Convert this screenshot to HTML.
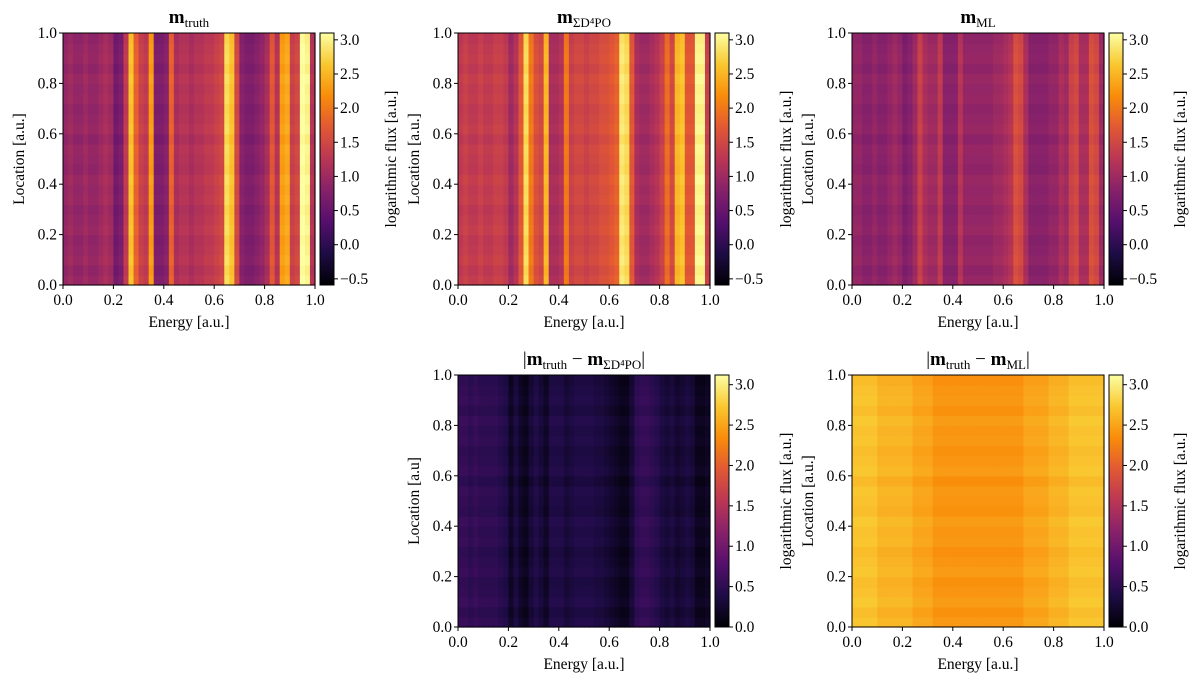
<!DOCTYPE html>
<html><head><meta charset="utf-8"><style>
body{margin:0;background:#fff;width:1200px;height:685px;overflow:hidden;font-family:"Liberation Serif",serif;}
svg text{font-family:"Liberation Serif",serif;fill:#000;}
</style></head><body>
<svg id="fig" width="1200" height="685"></svg>
<script>
// ----- data -----
const energyTicks = [0.0,0.2,0.4,0.6,0.8,1.0];
const locationTicks = [0.0,0.2,0.4,0.6,0.8,1.0];
const cbTicksTop = [-0.5,0.0,0.5,1.0,1.5,2.0,2.5,3.0];
const cbTicksBottom = [0.0,0.5,1.0,1.5,2.0,2.5,3.0];
const truthProfile = [0.9,1.0,0.9,0.9,1.0,0.9,0.9,1.0,1.1,1.0,0.6,0.7,1.3,2.6,1.8,1.4,1.3,2.3,0.7,0.7,0.8,1.8,1.1,1.2,1.2,1.1,1.2,1.2,1.3,1.3,1.4,1.5,2.8,2.6,1.5,0.8,0.7,0.7,0.8,0.9,1.1,1.7,1.2,2.3,2.4,1.4,1.5,3.1,3.0,1.2];
const d4poProfile = [1.3,1.4,1.3,1.3,1.4,1.3,1.3,1.4,1.4,1.3,1.0,1.2,1.7,2.8,2.0,1.6,1.5,2.5,1.1,1.1,1.2,2.0,1.4,1.5,1.5,1.4,1.5,1.5,1.6,1.6,1.7,1.8,2.9,2.8,1.7,1.1,1.0,1.0,1.1,1.2,1.4,1.9,1.5,2.5,2.6,1.7,1.7,3.0,3.0,1.4];
const mlProfile = [0.9,0.9,0.8,0.8,0.9,0.8,0.8,0.9,1.0,0.9,0.7,0.8,1.0,1.4,1.1,1.0,1.0,1.3,0.8,0.8,0.8,1.2,0.9,0.9,0.9,0.9,0.9,0.9,1.0,1.0,1.1,1.2,1.6,1.5,1.1,0.8,0.8,0.8,0.8,0.9,0.9,1.1,1.0,1.4,1.5,1.1,1.1,1.6,1.5,1.0];
const diffD4poProfile = [0.55,0.55,0.5,0.55,0.5,0.5,0.5,0.5,0.45,0.4,0.2,0.35,0.2,0.15,0.3,0.4,0.3,0.2,0.4,0.4,0.4,0.3,0.35,0.4,0.4,0.4,0.4,0.35,0.35,0.3,0.25,0.2,0.15,0.15,0.3,0.5,0.55,0.55,0.5,0.45,0.35,0.3,0.35,0.25,0.3,0.35,0.3,0.15,0.15,0.2];
const diffMlProfile = [2.7,2.7,2.7,2.7,2.7,2.6,2.6,2.6,2.6,2.6,2.6,2.6,2.5,2.5,2.5,2.5,2.4,2.4,2.4,2.4,2.4,2.4,2.4,2.4,2.4,2.4,2.4,2.4,2.4,2.4,2.4,2.4,2.4,2.4,2.5,2.5,2.5,2.5,2.5,2.6,2.6,2.6,2.6,2.7,2.7,2.7,2.7,2.7,2.7,2.7];
const rowMod = [0.03,-0.03,0.05,0,-0.03,0.04,0,-0.04,0.03,0,0.05,-0.03,0,0.03,-0.05,0.04,0,-0.03,0.03,0,0.05,-0.03,0.03,0,-0.04];

const NS="http://www.w3.org/2000/svg";
const svg=document.getElementById('fig');
const inferno=[[0,0,0,4],[0.13,31,12,72],[0.25,85,15,109],[0.38,136,34,106],[0.5,186,54,85],[0.63,227,89,51],[0.75,249,140,10],[0.88,249,201,50],[1,252,255,164]];
function cmap(t){t=Math.max(0,Math.min(1,t));for(let i=1;i<inferno.length;i++){if(t<=inferno[i][0]){const a=inferno[i-1],b=inferno[i];const f=(t-a[0])/(b[0]-a[0]);return `rgb(${Math.round(a[1]+f*(b[1]-a[1]))},${Math.round(a[2]+f*(b[2]-a[2]))},${Math.round(a[3]+f*(b[3]-a[3]))})`;}}return 'rgb(252,255,164)';}
function mk(tag,attrs,parent){const e=document.createElementNS(NS,tag);for(const k in attrs)e.setAttribute(k,attrs[k]);(parent||svg).appendChild(e);return e;}

function panel(name,x0,y0,profile,vmin,vmax,cbTicks,title,ylabel){
  const W=252,H=252;
  const g=mk('g',{});
  
  
  const xS=v=>x0+v*W, yS=v=>y0+H-v*H;
  const n=profile.length, nr=rowMod.length;
  for(let i=0;i<n;i++){for(let r=0;r<nr;r++){
    const v=profile[i]+rowMod[r]*(vmax-vmin)*0.3;
    const c=mk('rect',{x:xS(i/n),y:yS((r+1)/nr),width:W/n+0.6,height:H/nr+0.6,fill:cmap((v-vmin)/(vmax-vmin))},g);
    
    
  }}
  const fr=mk('rect',{x:x0,y:y0,width:W,height:H,fill:'none',stroke:'#000','stroke-width':1},g);
  
  energyTicks.forEach(t=>{mk('line',{x1:xS(t),x2:xS(t),y1:y0+H,y2:y0+H+4,stroke:'#000'},g);
    const tx=mk('text',{x:xS(t),y:y0+H+20,'text-anchor':'middle','font-size':15.5},g);tx.textContent=t.toFixed(1);
    });
  locationTicks.forEach(t=>{mk('line',{x1:x0-4,x2:x0,y1:yS(t),y2:yS(t),stroke:'#000'},g);
    const tx=mk('text',{x:x0-6,y:yS(t)+5,'text-anchor':'end','font-size':15.5},g);tx.textContent=t.toFixed(1);
    });
  const xl=mk('text',{x:x0+W/2,y:y0+H+42,'text-anchor':'middle','font-size':15.5},g);xl.textContent='Energy [a.u.]';
  
  const yl=mk('text',{x:0,y:0,'text-anchor':'middle','font-size':15.5,transform:`translate(${x0-39},${y0+H/2}) rotate(-90)`},g);yl.textContent=ylabel;
  
  const tt=mk('text',{x:x0+W/2,y:y0-10,'text-anchor':'middle','font-size':19},g);tt.innerHTML=title;
  
  const cx=x0+W+5,cw=14;
  const defsId='grad'+name;
  const defs=mk('defs',{},g);const lg=mk('linearGradient',{id:defsId,x1:0,y1:1,x2:0,y2:0},defs);
  for(let k=0;k<=8;k++)mk('stop',{offset:k/8,'stop-color':cmap(k/8)},lg);
  const cb=mk('rect',{x:cx,y:y0,width:cw,height:H,fill:`url(#${defsId})`,stroke:'#000','stroke-width':1},g);
  
  const cy=v=>y0+H-(v-vmin)/(vmax-vmin)*H;
  cbTicks.forEach(t=>{mk('line',{x1:cx+cw,x2:cx+cw+4,y1:cy(t),y2:cy(t),stroke:'#000'},g);
    const tx=mk('text',{x:cx+cw+6,y:cy(t)+5,'font-size':15.5},g);tx.textContent=(t<0?'\u2212':'')+Math.abs(t).toFixed(1);
    });
  const cl=mk('text',{x:0,y:0,'text-anchor':'middle','font-size':15.5,transform:`translate(${cx+cw+62},${y0+H/2}) rotate(-90)`},g);cl.textContent='logarithmic flux [a.u.]';
  
}
panel('panel-truth',63,33,truthProfile,-0.59,3.1,cbTicksTop,`<tspan font-weight="bold">m</tspan><tspan font-size="13" dy="4">truth</tspan>`,'Location [a.u.]');
panel('panel-d4po',458,33,d4poProfile,-0.59,3.1,cbTicksTop,`<tspan font-weight="bold">m</tspan><tspan font-size="13" dy="4">ΣD⁴PO</tspan>`,'Location [a.u.]');
panel('panel-ml',852,33,mlProfile,-0.59,3.1,cbTicksTop,`<tspan font-weight="bold">m</tspan><tspan font-size="13" dy="4">ML</tspan>`,'Location [a.u.]');
panel('panel-diff-d4po',458,375,diffD4poProfile,0,3.12,cbTicksBottom,`|<tspan font-weight="bold">m</tspan><tspan font-size="13" dy="4">truth</tspan><tspan dy="-4"> − </tspan><tspan font-weight="bold">m</tspan><tspan font-size="13" dy="4">ΣD⁴PO</tspan><tspan dy="-4">|</tspan>`,'Location [a.u]');
panel('panel-diff-ml',852,375,diffMlProfile,0,3.12,cbTicksBottom,`|<tspan font-weight="bold">m</tspan><tspan font-size="13" dy="4">truth</tspan><tspan dy="-4"> − </tspan><tspan font-weight="bold">m</tspan><tspan font-size="13" dy="4">ML</tspan><tspan dy="-4">|</tspan>`,'Location [a.u.]');
</script>
</body></html>
